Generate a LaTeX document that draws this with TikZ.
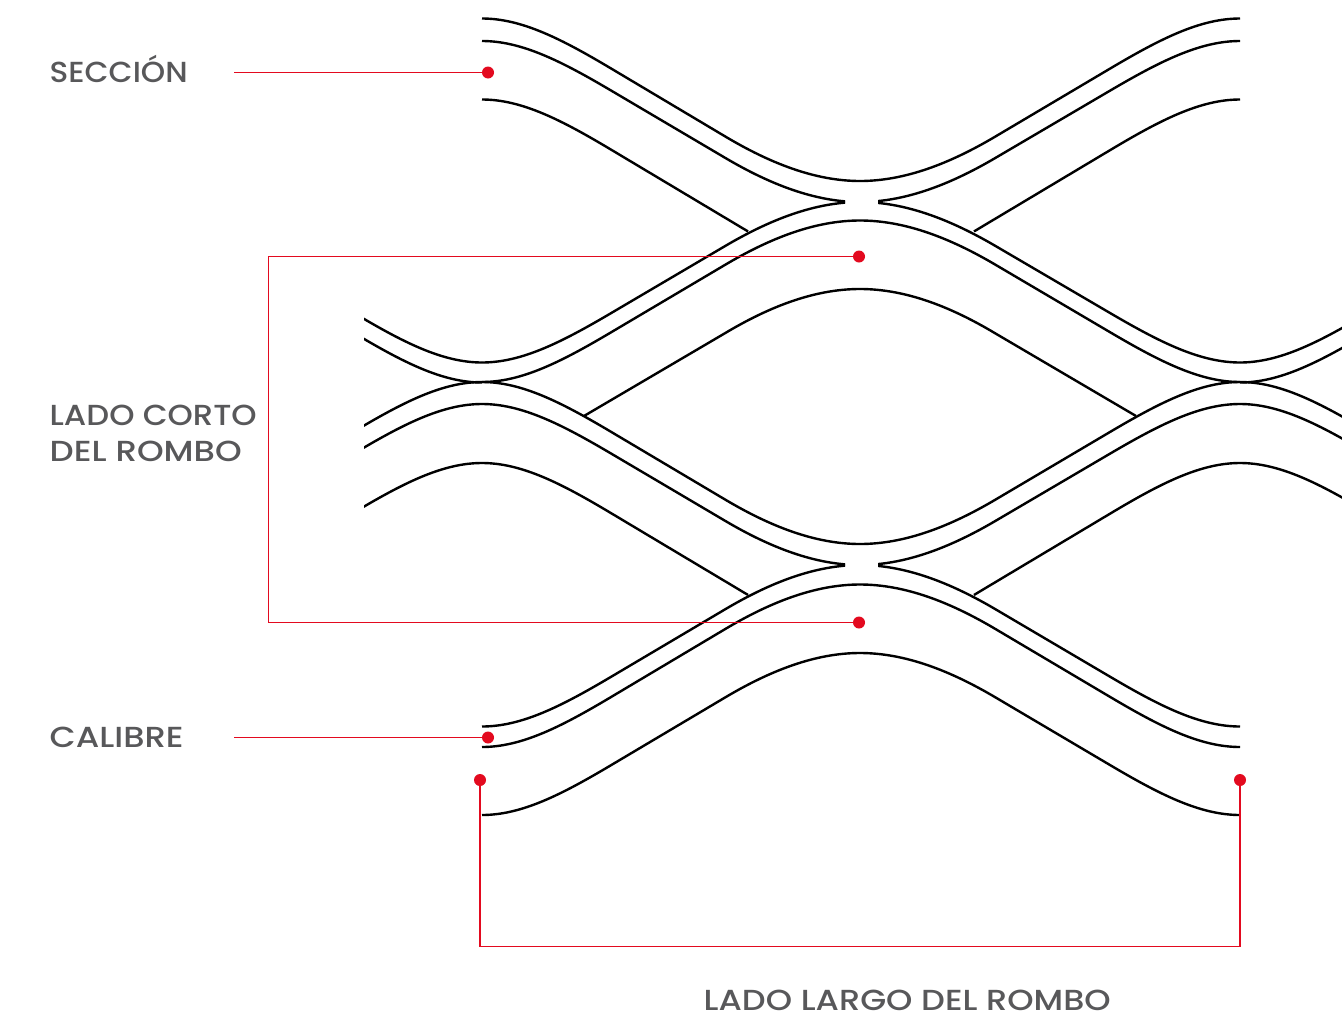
\documentclass[tikz,border=0pt]{standalone}
\usepackage{graphicx}
\usepackage{fontspec}
\setmainfont{Poppins}[UprightFont=* Medium]
\definecolor{redline}{HTML}{E30A1F}
\definecolor{labelgrey}{HTML}{58585A}
\newcommand\FitW[2]{\resizebox{#1pt}{\height}{#2}}
\newcommand\HalfWave[4]{(#1,#2) .. controls ({#1+.1058*(#3-#1)},#2) and ({#1+.2116*(#3-#1)},{#2+.1276*(#4-#2)}) .. ({#1+.3439*(#3-#1)},{#2+.3110*(#4-#2)}) -- ({#1+.6429*(#3-#1)},{#2+.7252*(#4-#2)}) .. controls ({#1+.7619*(#3-#1)},{#2+.8902*(#4-#2)}) and ({#1+.8810*(#3-#1)},#4) .. (#3,#4)}
\newcommand\Shoulder[5]{(#1,#2) .. controls ({#1+(#3)*40},#2) and ({#1+(#3)*80},{#2+(#4)*20.8}) .. ({#1+(#3)*130},{#2+(#4)*50.7}) -- ({#1+(#3)*#5},{#2+(#4)*(#5-45)*.597})}
\newcommand\Crown[3]{(#1,#2) .. controls ({#1+(#3)*45},#2) and ({#1+(#3)*90},{#2+17.3}) .. ({#1+(#3)*135},{#2+44.2}) -- ({#1+(#3)*276},{#2+127})}
\begin{document}
\begin{tikzpicture}[x=1pt,y=-1pt,
  wire/.style={draw=black,line width=2.4pt},
  redwire/.style={draw=redline,line width=1.1pt},
  dot/.style={circle,fill=redline,inner sep=0pt,minimum size=12pt},
  lab/.style={text=labelgrey,font=\fontsize{29}{35.5}\selectfont,inner sep=0pt,align=left}]
\useasboundingbox (0,0) rectangle (1342,1015);
\begin{scope}
\clip (364,0) rectangle (1342,1015);
% row 1
\draw[wire] \HalfWave{482}{18.5}{860}{181};
\draw[wire] \HalfWave{1240}{18.5}{860}{181};
\draw[wire] \Shoulder{482}{99.5}{1}{1}{266};
\draw[wire] \Shoulder{1240}{99.5}{-1}{1}{266};
% row 2
\draw[wire] \Shoulder{482}{362.5}{-1}{-1}{150};
\draw[wire] \Shoulder{1240}{362.5}{1}{-1}{150};
\draw[wire] \HalfWave{482}{382}{860}{220.5};
\draw[wire] \HalfWave{1240}{382}{860}{220.5};
\draw[wire] \Shoulder{482}{382.5}{-1}{-1}{150};
\draw[wire] \Shoulder{1240}{382.5}{1}{-1}{150};
\draw[wire] \Crown{860}{289}{-1};
\draw[wire] \Crown{860}{289}{1};
% row 3
\draw[wire] \HalfWave{482}{382}{860}{544};
\draw[wire] \HalfWave{1240}{382}{860}{544};
\draw[wire] \Shoulder{482}{382}{-1}{1}{150};
\draw[wire] \Shoulder{1240}{382}{1}{1}{150};
\draw[wire] \Shoulder{482}{404}{-1}{1}{150};
\draw[wire] \Shoulder{1240}{404}{1}{1}{150};
\draw[wire] \Shoulder{482}{463}{-1}{1}{150};
\draw[wire] \Shoulder{1240}{463}{1}{1}{150};
\draw[wire] \Shoulder{482}{463}{1}{1}{266};
\draw[wire] \Shoulder{1240}{463}{-1}{1}{266};
% row 4
\draw[wire] \HalfWave{482}{747}{860}{584.5};
\draw[wire] \HalfWave{1240}{747}{860}{584.5};
\draw[wire] \HalfWave{482}{815}{860}{653};
\draw[wire] \HalfWave{1240}{815}{860}{653};
\end{scope}
% lines that stop at the gaps
\begin{scope}
\clip (364,0) rectangle (845,1015);
\draw[wire] \HalfWave{482}{41}{860}{202};
\draw[wire] \HalfWave{482}{362.5}{860}{202};
\draw[wire] \HalfWave{482}{404}{860}{565};
\draw[wire] \HalfWave{482}{726.5}{860}{565};
\end{scope}
\begin{scope}
\clip (878,0) rectangle (1342,1015);
\draw[wire] \HalfWave{1240}{41}{860}{202};
\draw[wire] \HalfWave{1240}{362.5}{860}{202};
\draw[wire] \HalfWave{1240}{404}{860}{565};
\draw[wire] \HalfWave{1240}{726.5}{860}{565};
\end{scope}
% labels
\node[lab,anchor=base west] (seccion) at (49.5,82.5) {\FitW{138}{SECCIÓN}};
\node[lab,anchor=west] (corto) at (49.5,433.5) {\FitW{207}{LADO CORTO}\\\FitW{192}{DEL ROMBO}};
\node[lab,anchor=base west] (calibre) at (49.5,747) {\FitW{134}{CALIBRE}};
\node[lab,anchor=base west] (largo) at (703.5,1010) {\FitW{407}{LADO LARGO DEL ROMBO}};
% markers
\node[dot] (d1) at (488,72.5) {};
\node[dot] (d2) at (859,256.5) {};
\node[dot] (d3) at (859,622.5) {};
\node[dot] (d4) at (488,737.5) {};
\node[dot] (d5) at (480,780) {};
\node[dot] (d6) at (1240,780) {};
\coordinate (s1) at (234,72.5);
\coordinate (s2) at (234,737.5);
\coordinate (c1) at (268.5,256.5);
\coordinate (c2) at (268.5,622.5);
\coordinate (c3) at (480,946.5);
\coordinate (c4) at (1240,946.5);
\draw[redwire] (s1) -- (d1);
\draw[redwire] (s2) -- (d4);
\draw[redwire] (d2) -- (c1) -- (c2) -- (d3);
\draw[redwire] (d5) -- (c3) -- (c4) -- (d6);
\end{tikzpicture}
\end{document}
